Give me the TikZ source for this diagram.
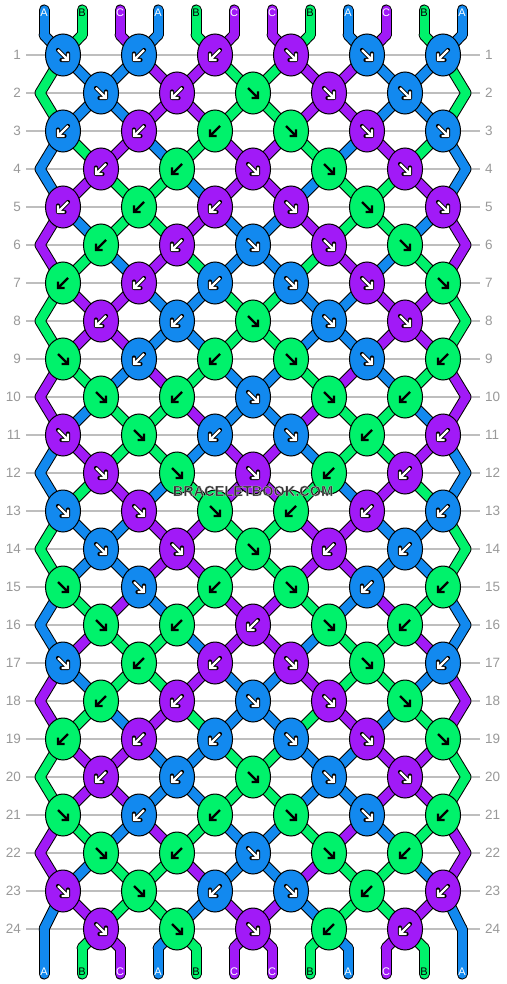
\documentclass[tikz,border=0pt]{standalone}
\usepackage{fontspec}
\setmainfont{Liberation Sans}
\usetikzlibrary{shapes.geometric}
\definecolor{colA}{HTML}{1289EF}
\definecolor{colB}{HTML}{00F26B}
\definecolor{colC}{HTML}{A11AF7}
\definecolor{txtA}{HTML}{FFFFFF}
\definecolor{txtB}{HTML}{000000}
\definecolor{txtC}{HTML}{FFFFFF}
\definecolor{haloA}{HTML}{000000}
\definecolor{haloB}{HTML}{00F26B}
\definecolor{haloC}{HTML}{000000}
\definecolor{guidegray}{HTML}{BEBEBE}
\definecolor{numgray}{HTML}{999999}
\definecolor{wmgray}{HTML}{333333}
\def\dirf{1}
\def\dirb{-1}
\def\statelist{%
0/{A,B,C,A,B,C,C,B,A,C,B,A},
1/{B,A,A,C,C,B,B,C,C,A,A,B},
2/{B,A,A,C,C,B,B,C,C,A,A,B},
3/{A,B,C,A,B,C,C,B,A,C,B,A},
4/{A,C,B,B,A,C,C,A,B,B,C,A},
5/{C,A,B,B,C,A,A,C,B,B,A,C},
6/{C,B,A,C,B,A,A,B,C,A,B,C},
7/{B,C,C,A,A,B,B,A,A,C,C,B},
8/{B,C,C,A,A,B,B,A,A,C,C,B},
9/{C,B,A,C,B,A,A,B,C,A,B,C},
10/{C,A,B,B,C,A,A,C,B,B,A,C},
11/{A,C,B,B,A,C,C,A,B,B,C,A},
12/{A,B,C,A,B,C,C,B,A,C,B,A},
13/{B,A,A,C,C,B,B,C,C,A,A,B},
14/{B,A,A,C,C,B,B,C,C,A,A,B},
15/{A,B,C,A,B,C,C,B,A,C,B,A},
16/{A,C,B,B,A,C,C,A,B,B,C,A},
17/{C,A,B,B,C,A,A,C,B,B,A,C},
18/{C,B,A,C,B,A,A,B,C,A,B,C},
19/{B,C,C,A,A,B,B,A,A,C,C,B},
20/{B,C,C,A,A,B,B,A,A,C,C,B},
21/{C,B,A,C,B,A,A,B,C,A,B,C},
22/{C,A,B,B,C,A,A,C,B,B,A,C},
23/{A,C,B,B,A,C,C,A,B,B,C,A},
24/{A,B,C,A,B,C,C,B,A,C,B,A}}
\def\knotlist{%
1/{A/f,A/b,C/b,C/f,A/f,A/b},
2/{A/f,C/b,B/f,C/f,A/f},
3/{A/b,C/b,B/b,B/f,C/f,A/f},
4/{C/b,B/b,C/f,B/f,C/f},
5/{C/b,B/b,C/b,C/f,B/f,C/f},
6/{B/b,C/b,A/f,C/f,B/f},
7/{B/b,C/b,A/b,A/f,C/f,B/f},
8/{C/b,A/b,B/f,A/f,C/f},
9/{B/f,A/b,B/b,B/f,A/f,B/b},
10/{B/f,B/b,A/f,B/f,B/b},
11/{C/f,B/f,A/b,A/f,B/b,C/b},
12/{C/f,B/f,C/f,B/b,C/b},
13/{A/f,C/f,B/f,B/b,C/b,A/b},
14/{A/f,C/f,B/f,C/b,A/b},
15/{B/f,A/f,B/b,B/f,A/b,B/b},
16/{B/f,B/b,C/b,B/f,B/b},
17/{A/f,B/b,C/b,C/f,B/f,A/b},
18/{B/b,C/b,A/f,C/f,B/f},
19/{B/b,C/b,A/b,A/f,C/f,B/f},
20/{C/b,A/b,B/f,A/f,C/f},
21/{B/f,A/b,B/b,B/f,A/f,B/b},
22/{B/f,B/b,A/f,B/f,B/b},
23/{C/f,B/f,A/b,A/f,B/b,C/b},
24/{C/f,B/f,C/f,B/b,C/b}}
\begin{document}
\begin{tikzpicture}[x=1pt,y=-1pt,
  outline/.style={line width=11pt, draw=black, line cap=round},
  strand/.style={line width=9pt, line cap=round},
  knot/.style={ellipse, draw=black, line width=1pt, minimum width=35pt, minimum height=42pt, inner sep=0pt},
  guide/.style={draw=guidegray, line width=1.2pt},
  rownum/.style={text=numgray, font=\fontsize{13.5}{14}\selectfont, inner sep=0pt},
  strandlbl/.style={font=\fontsize{11}{11}\selectfont, inner sep=0pt},
  halo/.style={line width=4.2pt, line cap=round, line join=round},
  arrowline/.style={line width=2.2pt, line cap=butt, line join=miter},
  wmark/.style={font=\bfseries\fontsize{14.5}{14.5}\selectfont, inner sep=0pt}]
\useasboundingbox (0,0) rectangle (506,984);
\fill[white] (0,0) rectangle (506,984);
% coordinates
\foreach \i in {1,...,12}{
  \pgfmathsetmacro\xs{44+38*(\i-1)}
  \coordinate (t-\i) at (\xs,10);
  \coordinate (p-0-\i) at (\xs,35);
  \coordinate (p-25-\i) at (\xs,948);
  \coordinate (b-\i) at (\xs,974);
}
\foreach \r in {1,...,24}{
  \foreach \i in {1,...,12}{
    \pgfmathsetmacro\y{55+38*(\r-1)}
    \pgfmathsetmacro\x{isodd(\r) ? 63+76*(ceil(\i/2)-1) : (\i==1 ? 40 : (\i==12 ? 466 : 101+76*(floor(\i/2)-1)))}
    \coordinate (p-\r-\i) at (\x,\y);
  }
}
\coordinate (p-24-1) at (44,929);
\coordinate (p-24-12) at (462,929);
% guide lines and row numbers
\foreach \r in {1,...,24}{
  \pgfmathsetmacro\y{55+38*(\r-1)}
  \coordinate (gl-\r) at (26,\y);
  \coordinate (gr-\r) at (480,\y);
  \draw[guide] (gl-\r) -- (gr-\r);
  \node[rownum, anchor=east] (nl-\r) at (21,\y) {\r};
  \node[rownum, anchor=west] (nr-\r) at (485,\y) {\r};
}
% strand outlines
\foreach \c [count=\i] in {A,B,C,A,B,C,C,B,A,C,B,A}{
  \draw[outline] (t-\i) -- (p-0-\i);
  \draw[outline] (p-25-\i) -- (b-\i);
}
\foreach \r/\s in \statelist {
  \pgfmathtruncatemacro\rn{\r+1}
  \foreach \c [count=\i] in \s {
    \draw[outline] (p-\r-\i) -- (p-\rn-\i);
  }
}
% strand colours
\foreach \c [count=\i] in {A,B,C,A,B,C,C,B,A,C,B,A}{
  \draw[strand, draw=col\c] (t-\i) -- (p-0-\i);
  \draw[strand, draw=col\c] (p-25-\i) -- (b-\i);
}
\foreach \r/\s in \statelist {
  \pgfmathtruncatemacro\rn{\r+1}
  \foreach \c [count=\i] in \s {
    \draw[strand, draw=col\c] (p-\r-\i) -- (p-\rn-\i);
  }
}
% knots
\foreach \r/\ks in \knotlist {
  \pgfmathsetmacro\y{55+38*(\r-1)}
  \pgfmathsetmacro\xo{isodd(\r) ? 63 : 101}
  \foreach \c/\d [count=\j] in \ks {
    \pgfmathsetmacro\x{\xo+76*(\j-1)}
    \edef\sc{\csname dir\d\endcsname}
    \node[knot, fill=col\c] (k-\r-\j) at (\x,\y) {};
    \begin{scope}[shift={(k-\r-\j.center)}, xscale=\sc]
      \draw[halo, draw=halo\c] (-5,-5) -- (5,5) (-1.5,5) -- (5,5) -- (5,-1.5);
      \draw[arrowline, draw=txt\c] (-5,-5) -- (5,5) (-1.5,5) -- (5,5) -- (5,-1.5);
    \end{scope}
  }
}
% strand labels
\foreach \c [count=\i] in {A,B,C,A,B,C,C,B,A,C,B,A}{
  \pgfmathsetmacro\xs{44+38*(\i-1)}
  \node[strandlbl, text=txt\c] (lt-\i) at (\xs,12.5) {\c};
  \node[strandlbl, text=txt\c] (lb-\i) at (\xs,972) {\c};
}
% watermark: filled dark text stroked with a thin light outline
\node[wmark, text=wmgray] (wm) at (253,491) {\special{pdf:literal direct 2 Tr 0.25 w 0.85 0.85 0.85 RG}BRACELETBOOK.COM\special{pdf:literal direct 0 Tr 0 0 0 RG}};
\end{tikzpicture}
\end{document}
